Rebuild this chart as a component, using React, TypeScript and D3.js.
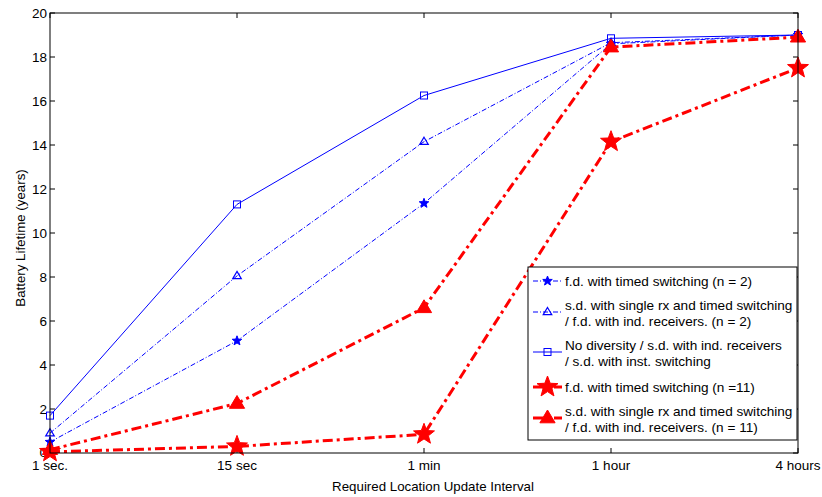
import React from "react";
import * as d3 from "d3";

const categories = ["1 sec.", "15 sec", "1 min", "1 hour", "4 hours"];
const yTicks = [0, 2, 4, 6, 8, 10, 12, 14, 16, 18, 20];
const fdN2 = [0.5, 5.1, 11.35, 18.6, 19.0];
const sdN2 = [0.9, 8.05, 14.15, 18.65, 19.0];
const noDiv = [1.7, 11.3, 16.25, 18.85, 19.0];
const fdN11 = [0.05, 0.3, 0.85, 14.15, 17.5];
const sdN11 = [0.15, 2.25, 6.6, 18.45, 18.9];

const W = 822, H = 497;
const L = 50, R = 798, T = 13, B = 453;

const x = d3.scalePoint<string>().domain(categories).range([L, R]);
const y = d3.scaleLinear().domain([0, 20]).range([B, T]);

const blue = "#0000ff";
const red = "#ff0000";

function starPath(cx: number, cy: number, r: number) {
  const pts: [number, number][] = [];
  const ri = r * 0.42;
  for (let i = 0; i < 10; i++) {
    const a = -Math.PI / 2 + (i * Math.PI) / 5;
    const rr = i % 2 === 0 ? r : ri;
    pts.push([cx + rr * Math.cos(a), cy + rr * Math.sin(a)]);
  }
  return "M" + pts.map((p) => p.join(",")).join("L") + "Z";
}
function triPath(cx: number, cy: number, r: number) {
  return `M${cx},${cy - r}L${cx + r * 0.95},${cy + r * 0.6}L${cx - r * 0.95},${cy + r * 0.6}Z`;
}

type Series = {
  name: string[];
  values: number[];
  color: string;
  width: number;
  dash: string;
  marker: "star" | "tri" | "square";
  size: number;
  fill: boolean;
};

const series: Series[] = [
  { name: ["No diversity / s.d. with ind. receivers", "/ s.d. with inst. switching"], values: noDiv, color: blue, width: 1, dash: "", marker: "square", size: 3.5, fill: false },
  { name: ["s.d. with single rx and timed switching", "/ f.d. with ind. receivers. (n = 2)"], values: sdN2, color: blue, width: 1, dash: "5,2,1,2", marker: "tri", size: 4.5, fill: false },
  { name: ["f.d. with timed switching (n = 2)"], values: fdN2, color: blue, width: 1, dash: "5,2,1,2", marker: "star", size: 5, fill: true },
  { name: ["s.d. with single rx and timed switching", "/ f.d. with ind. receivers. (n = 11)"], values: sdN11, color: red, width: 3, dash: "10,4,3,4", marker: "tri", size: 8, fill: true },
  { name: ["f.d. with timed switching (n =11)"], values: fdN11, color: red, width: 3, dash: "10,4,3,4", marker: "star", size: 11, fill: true },
];

const legendOrder = [2, 1, 0, 4, 3];
const legendY = [281, 305, 345, 387, 411];

function Marker({ s, cx, cy }: { s: Series; cx: number; cy: number }) {
  const fill = s.fill ? s.color : "none";
  if (s.marker === "star") return <path d={starPath(cx, cy, s.size)} fill={fill} stroke={s.color} strokeWidth={1} />;
  if (s.marker === "tri") return <path d={triPath(cx, cy, s.size)} fill={fill} stroke={s.color} strokeWidth={s.fill ? 1 : 1.2} />;
  return <rect x={cx - s.size} y={cy - s.size} width={s.size * 2} height={s.size * 2} fill="none" stroke={s.color} strokeWidth={1} />;
}

export default function App() {
  const line = d3.line<number>().x((_, i) => x(categories[i])!).y((v) => y(v));
  const font = "'Liberation Sans', Arial, sans-serif";
  return (
    <svg width={W} height={H} style={{ position: "absolute", left: 0, top: 0, background: "#fff" }} fontFamily={font}>
      <rect x={0} y={0} width={W} height={H} fill="#fff" />
      {yTicks.map((t) => (
        <g key={"y" + t}>
          <line x1={L} x2={L + 5} y1={y(t)} y2={y(t)} stroke="#000" />
          <line x1={R} x2={R - 5} y1={y(t)} y2={y(t)} stroke="#000" />
          <text x={L - 3} y={y(t) + (t === 0 ? 3.5 : 5)} textAnchor="end" fontSize={13.5}>{t}</text>
        </g>
      ))}
      {categories.map((c) => (
        <g key={c}>
          <line x1={x(c)} x2={x(c)} y1={B} y2={B - 5} stroke="#000" />
          <line x1={x(c)} x2={x(c)} y1={T} y2={T + 5} stroke="#000" />
          <text x={x(c)} y={B + 16.5} textAnchor="middle" fontSize={13.5}>{c}</text>
        </g>
      ))}
      {series.map((s, i) => (
        <path key={"l" + i} d={line(s.values)!} fill="none" stroke={s.color} strokeWidth={s.width} strokeDasharray={s.dash} />
      ))}
      {series.map((s, i) =>
        s.values.map((v, j) => <Marker key={"m" + i + "-" + j} s={s} cx={x(categories[j])!} cy={y(v)} />)
      )}
      <rect x={L} y={T} width={R - L} height={B - T} fill="none" stroke="#000" strokeWidth={1} />
      <text x={433} y={491} textAnchor="middle" fontSize={13.3}>Required Location Update Interval</text>
      <text transform={`translate(25,238) rotate(-90)`} textAnchor="middle" fontSize={13.3}>Battery Lifetime (years)</text>
      <rect x={528} y={267} width={269} height={173} fill="#fff" stroke="#000" strokeWidth={1} />
      {legendOrder.map((si, k) => {
        const s = series[si];
        const ly = legendY[k];
        const lineY = s.name.length > 1 ? ly + 7 : ly;
        return (
          <g key={"lg" + k}>
            <line x1={533} x2={562} y1={lineY} y2={lineY} stroke={s.color} strokeWidth={s.width} strokeDasharray={s.dash} />
            <Marker s={s} cx={547.5} cy={lineY} />
            {s.name.map((t, ti) => (
              <text key={ti} x={565} y={ly + 5 + ti * 15.5} fontSize={13.6}>{t}</text>
            ))}
          </g>
        );
      })}
    </svg>
  );
}
